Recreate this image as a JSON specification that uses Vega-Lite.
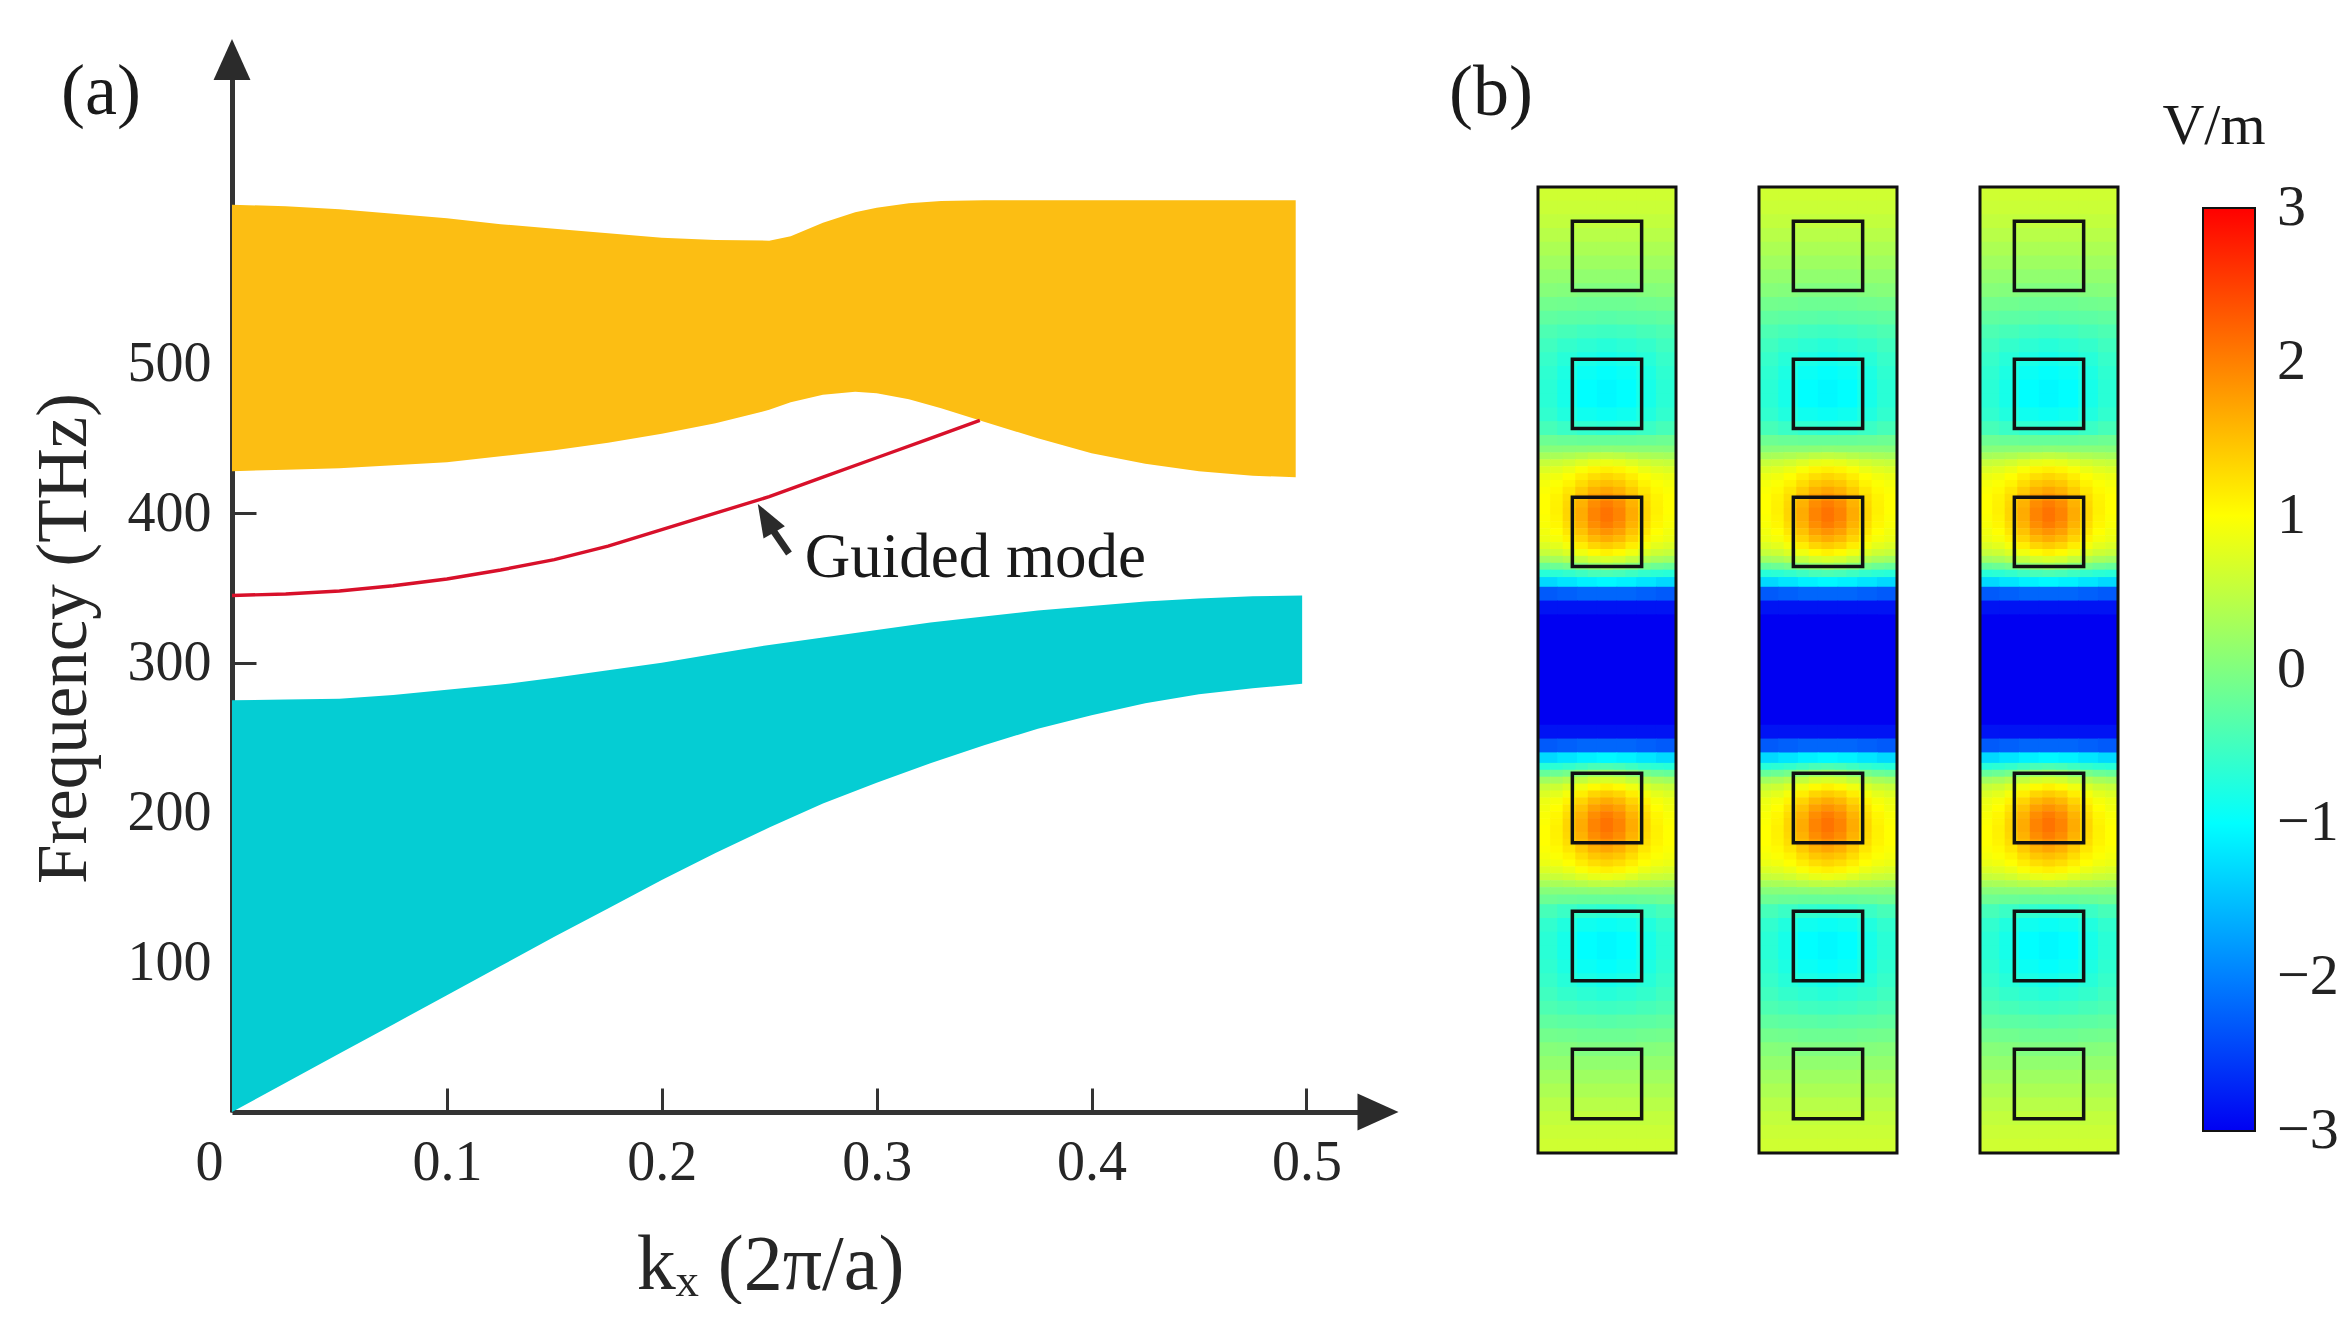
{
  "$schema": "https://vega.github.io/schema/vega-lite/v6.json",
  "padding": {"left": 28, "top": 39, "right": 0, "bottom": 0},
  "background": "white",
  "config": {"view": {"stroke": null}, "font": "Liberation Serif", "axis": {"grid": false}},
  "datasets": {
    "upper": [
      {"k":0,"f":428,"f2":606},{"k":0.025,"f":429,"f2":605},{"k":0.05,"f":430,"f2":603},{"k":0.075,"f":432,"f2":600},
      {"k":0.1,"f":434,"f2":597},{"k":0.125,"f":438,"f2":593},{"k":0.15,"f":442,"f2":590},{"k":0.175,"f":447,"f2":587},
      {"k":0.2,"f":453,"f2":584},{"k":0.225,"f":460,"f2":582.5},{"k":0.25,"f":469,"f2":582},{"k":0.26,"f":474,"f2":585},
      {"k":0.275,"f":479,"f2":594},{"k":0.29,"f":481,"f2":601},{"k":0.3,"f":480,"f2":604},{"k":0.315,"f":476,"f2":607},
      {"k":0.33,"f":470,"f2":608.5},{"k":0.35,"f":461,"f2":609},{"k":0.375,"f":450,"f2":609},{"k":0.4,"f":440,"f2":609},
      {"k":0.425,"f":433,"f2":609},{"k":0.45,"f":428,"f2":609},{"k":0.475,"f":425,"f2":609},{"k":0.495,"f":424,"f2":609}
    ],
    "lower": [
      {"k":0,"f":0,"f2":275},{"k":0.025,"f":19.5,"f2":275.5},{"k":0.05,"f":39,"f2":276},{"k":0.075,"f":58.5,"f2":278.5},
      {"k":0.1,"f":78,"f2":282},{"k":0.125,"f":97.5,"f2":285.5},{"k":0.15,"f":117,"f2":290},{"k":0.175,"f":136,"f2":295},
      {"k":0.2,"f":155,"f2":300},{"k":0.225,"f":173,"f2":306},{"k":0.25,"f":190,"f2":312},{"k":0.275,"f":206,"f2":317},
      {"k":0.3,"f":220,"f2":322},{"k":0.325,"f":233,"f2":327},{"k":0.35,"f":245,"f2":331},{"k":0.375,"f":256,"f2":335},
      {"k":0.4,"f":265,"f2":338},{"k":0.425,"f":273,"f2":341},{"k":0.45,"f":279,"f2":343},{"k":0.475,"f":283,"f2":344.5},
      {"k":0.498,"f":286,"f2":345}
    ],
    "guided": [
      {"k":0,"f":345},{"k":0.025,"f":346},{"k":0.05,"f":348},{"k":0.075,"f":351.5},{"k":0.1,"f":356},
      {"k":0.125,"f":362},{"k":0.15,"f":369},{"k":0.175,"f":378},{"k":0.2,"f":389},{"k":0.225,"f":400},
      {"k":0.25,"f":411},{"k":0.275,"f":424},{"k":0.3,"f":437},{"k":0.325,"f":450},{"k":0.348,"f":462}
    ],
    "pointer": [{"k":0.2592,"f":373},{"k":0.2515,"f":389}],
    "heads": [
      {"k":0,"f":703,"dir":"up"},
      {"k":0.5333,"f":0,"dir":"right"},
      {"k":0.2485,"f":396.7,"dir":"pointer"}
    ],
    "labelsA": [{"k":0.2665,"f":370,"label":"Guided mode"}],
    "panelA": [{"k":-0.061,"f":681,"label":"(a)"}],
    "panelB": [{"x":-0.34,"u":-0.68,"label":"(b)"}],
    "unit": [{"x":1.696,"u":-0.435,"label":"V/m"}],
    "cell": [{"x0":0,"x1":1,"u0":0,"u1":7}],
    "rods": [{"x":0.5,"u":0.5},{"x":0.5,"u":1.5},{"x":0.5,"u":2.5},{"x":0.5,"u":4.5},{"x":0.5,"u":5.5},{"x":0.5,"u":6.5}],
    "field": [
{"x":0.071,"u":0.05,"v":0.62},{"x":0.214,"u":0.05,"v":0.62},{"x":0.357,"u":0.05,"v":0.62},{"x":0.5,"u":0.05,"v":0.62},{"x":0.643,"u":0.05,"v":0.62},{"x":0.786,"u":0.05,"v":0.62},{"x":0.929,"u":0.05,"v":0.62},
{"x":0.071,"u":0.15,"v":0.58},{"x":0.214,"u":0.15,"v":0.58},{"x":0.357,"u":0.15,"v":0.58},{"x":0.5,"u":0.15,"v":0.58},{"x":0.643,"u":0.15,"v":0.58},{"x":0.786,"u":0.15,"v":0.58},{"x":0.929,"u":0.15,"v":0.58},
{"x":0.071,"u":0.25,"v":0.52},{"x":0.214,"u":0.25,"v":0.52},{"x":0.357,"u":0.25,"v":0.52},{"x":0.5,"u":0.25,"v":0.52},{"x":0.643,"u":0.25,"v":0.52},{"x":0.786,"u":0.25,"v":0.52},{"x":0.929,"u":0.25,"v":0.52},
{"x":0.071,"u":0.35,"v":0.44},{"x":0.214,"u":0.35,"v":0.44},{"x":0.357,"u":0.35,"v":0.44},{"x":0.5,"u":0.35,"v":0.44},{"x":0.643,"u":0.35,"v":0.44},{"x":0.786,"u":0.35,"v":0.44},{"x":0.929,"u":0.35,"v":0.44},
{"x":0.071,"u":0.45,"v":0.35},{"x":0.214,"u":0.45,"v":0.35},{"x":0.357,"u":0.45,"v":0.34},{"x":0.5,"u":0.45,"v":0.34},{"x":0.643,"u":0.45,"v":0.34},{"x":0.786,"u":0.45,"v":0.35},{"x":0.929,"u":0.45,"v":0.35},
{"x":0.071,"u":0.55,"v":0.25},{"x":0.214,"u":0.55,"v":0.25},{"x":0.357,"u":0.55,"v":0.24},{"x":0.5,"u":0.55,"v":0.24},{"x":0.643,"u":0.55,"v":0.24},{"x":0.786,"u":0.55,"v":0.25},{"x":0.929,"u":0.55,"v":0.25},
{"x":0.071,"u":0.65,"v":0.15},{"x":0.214,"u":0.65,"v":0.15},{"x":0.357,"u":0.65,"v":0.13},{"x":0.5,"u":0.65,"v":0.13},{"x":0.643,"u":0.65,"v":0.13},{"x":0.786,"u":0.65,"v":0.15},{"x":0.929,"u":0.65,"v":0.15},
{"x":0.071,"u":0.75,"v":0.05},{"x":0.214,"u":0.75,"v":0.03},{"x":0.357,"u":0.75,"v":0},{"x":0.5,"u":0.75,"v":0},{"x":0.643,"u":0.75,"v":0},{"x":0.786,"u":0.75,"v":0.03},{"x":0.929,"u":0.75,"v":0.05},
{"x":0.071,"u":0.85,"v":-0.1},{"x":0.214,"u":0.85,"v":-0.12},{"x":0.357,"u":0.85,"v":-0.15},{"x":0.5,"u":0.85,"v":-0.15},{"x":0.643,"u":0.85,"v":-0.15},{"x":0.786,"u":0.85,"v":-0.12},{"x":0.929,"u":0.85,"v":-0.1},
{"x":0.071,"u":0.95,"v":-0.25},{"x":0.214,"u":0.95,"v":-0.28},{"x":0.357,"u":0.95,"v":-0.3},{"x":0.5,"u":0.95,"v":-0.32},{"x":0.643,"u":0.95,"v":-0.3},{"x":0.786,"u":0.95,"v":-0.28},{"x":0.929,"u":0.95,"v":-0.25},
{"x":0.071,"u":1.05,"v":-0.4},{"x":0.214,"u":1.05,"v":-0.45},{"x":0.357,"u":1.05,"v":-0.5},{"x":0.5,"u":1.05,"v":-0.52},{"x":0.643,"u":1.05,"v":-0.5},{"x":0.786,"u":1.05,"v":-0.45},{"x":0.929,"u":1.05,"v":-0.4},
{"x":0.071,"u":1.15,"v":-0.5},{"x":0.214,"u":1.15,"v":-0.6},{"x":0.357,"u":1.15,"v":-0.66},{"x":0.5,"u":1.15,"v":-0.7},{"x":0.643,"u":1.15,"v":-0.66},{"x":0.786,"u":1.15,"v":-0.6},{"x":0.929,"u":1.15,"v":-0.5},
{"x":0.071,"u":1.25,"v":-0.58},{"x":0.214,"u":1.25,"v":-0.7},{"x":0.357,"u":1.25,"v":-0.8},{"x":0.5,"u":1.25,"v":-0.85},{"x":0.643,"u":1.25,"v":-0.8},{"x":0.786,"u":1.25,"v":-0.7},{"x":0.929,"u":1.25,"v":-0.58},
{"x":0.071,"u":1.35,"v":-0.64},{"x":0.214,"u":1.35,"v":-0.78},{"x":0.357,"u":1.35,"v":-0.92},{"x":0.5,"u":1.35,"v":-0.98},{"x":0.643,"u":1.35,"v":-0.92},{"x":0.786,"u":1.35,"v":-0.78},{"x":0.929,"u":1.35,"v":-0.64},
{"x":0.071,"u":1.45,"v":-0.68},{"x":0.214,"u":1.45,"v":-0.83},{"x":0.357,"u":1.45,"v":-1},{"x":0.5,"u":1.45,"v":-1.05},{"x":0.643,"u":1.45,"v":-1},{"x":0.786,"u":1.45,"v":-0.83},{"x":0.929,"u":1.45,"v":-0.68},
{"x":0.071,"u":1.55,"v":-0.68},{"x":0.214,"u":1.55,"v":-0.83},{"x":0.357,"u":1.55,"v":-1},{"x":0.5,"u":1.55,"v":-1.05},{"x":0.643,"u":1.55,"v":-1},{"x":0.786,"u":1.55,"v":-0.83},{"x":0.929,"u":1.55,"v":-0.68},
{"x":0.071,"u":1.65,"v":-0.62},{"x":0.214,"u":1.65,"v":-0.75},{"x":0.357,"u":1.65,"v":-0.88},{"x":0.5,"u":1.65,"v":-0.92},{"x":0.643,"u":1.65,"v":-0.88},{"x":0.786,"u":1.65,"v":-0.75},{"x":0.929,"u":1.65,"v":-0.62},
{"x":0.071,"u":1.75,"v":-0.45},{"x":0.214,"u":1.75,"v":-0.55},{"x":0.357,"u":1.75,"v":-0.62},{"x":0.5,"u":1.75,"v":-0.65},{"x":0.643,"u":1.75,"v":-0.62},{"x":0.786,"u":1.75,"v":-0.55},{"x":0.929,"u":1.75,"v":-0.45},
{"x":0.071,"u":1.85,"v":-0.15},{"x":0.214,"u":1.85,"v":-0.18},{"x":0.357,"u":1.85,"v":-0.2},{"x":0.5,"u":1.85,"v":-0.2},{"x":0.643,"u":1.85,"v":-0.2},{"x":0.786,"u":1.85,"v":-0.18},{"x":0.929,"u":1.85,"v":-0.15},
{"x":0.071,"u":2.85,"v":-1.3},{"x":0.214,"u":2.85,"v":-1.2},{"x":0.357,"u":2.85,"v":-1.1},{"x":0.5,"u":2.85,"v":-1.05},{"x":0.643,"u":2.85,"v":-1.1},{"x":0.786,"u":2.85,"v":-1.2},{"x":0.929,"u":2.85,"v":-1.3},
{"x":0.071,"u":2.95,"v":-2.3},{"x":0.214,"u":2.95,"v":-2.25},{"x":0.357,"u":2.95,"v":-2.2},{"x":0.5,"u":2.95,"v":-2.2},{"x":0.643,"u":2.95,"v":-2.2},{"x":0.786,"u":2.95,"v":-2.25},{"x":0.929,"u":2.95,"v":-2.3},
{"x":0.071,"u":3.05,"v":-2.85},{"x":0.214,"u":3.05,"v":-2.85},{"x":0.357,"u":3.05,"v":-2.85},{"x":0.5,"u":3.05,"v":-2.85},{"x":0.643,"u":3.05,"v":-2.85},{"x":0.786,"u":3.05,"v":-2.85},{"x":0.929,"u":3.05,"v":-2.85},
{"x":0.071,"u":3.15,"v":-3},{"x":0.214,"u":3.15,"v":-3},{"x":0.357,"u":3.15,"v":-3},{"x":0.5,"u":3.15,"v":-3},{"x":0.643,"u":3.15,"v":-3},{"x":0.786,"u":3.15,"v":-3},{"x":0.929,"u":3.15,"v":-3},
{"x":0.071,"u":3.25,"v":-3},{"x":0.214,"u":3.25,"v":-3},{"x":0.357,"u":3.25,"v":-3},{"x":0.5,"u":3.25,"v":-3},{"x":0.643,"u":3.25,"v":-3},{"x":0.786,"u":3.25,"v":-3},{"x":0.929,"u":3.25,"v":-3},
{"x":0.071,"u":3.35,"v":-3},{"x":0.214,"u":3.35,"v":-3},{"x":0.357,"u":3.35,"v":-3},{"x":0.5,"u":3.35,"v":-3},{"x":0.643,"u":3.35,"v":-3},{"x":0.786,"u":3.35,"v":-3},{"x":0.929,"u":3.35,"v":-3},
{"x":0.071,"u":3.45,"v":-3},{"x":0.214,"u":3.45,"v":-3},{"x":0.357,"u":3.45,"v":-3},{"x":0.5,"u":3.45,"v":-3},{"x":0.643,"u":3.45,"v":-3},{"x":0.786,"u":3.45,"v":-3},{"x":0.929,"u":3.45,"v":-3},
{"x":0.071,"u":3.55,"v":-3},{"x":0.214,"u":3.55,"v":-3},{"x":0.357,"u":3.55,"v":-3},{"x":0.5,"u":3.55,"v":-3},{"x":0.643,"u":3.55,"v":-3},{"x":0.786,"u":3.55,"v":-3},{"x":0.929,"u":3.55,"v":-3},
{"x":0.071,"u":3.65,"v":-3},{"x":0.214,"u":3.65,"v":-3},{"x":0.357,"u":3.65,"v":-3},{"x":0.5,"u":3.65,"v":-3},{"x":0.643,"u":3.65,"v":-3},{"x":0.786,"u":3.65,"v":-3},{"x":0.929,"u":3.65,"v":-3},
{"x":0.071,"u":3.75,"v":-3},{"x":0.214,"u":3.75,"v":-3},{"x":0.357,"u":3.75,"v":-3},{"x":0.5,"u":3.75,"v":-3},{"x":0.643,"u":3.75,"v":-3},{"x":0.786,"u":3.75,"v":-3},{"x":0.929,"u":3.75,"v":-3},
{"x":0.071,"u":3.85,"v":-3},{"x":0.214,"u":3.85,"v":-3},{"x":0.357,"u":3.85,"v":-3},{"x":0.5,"u":3.85,"v":-3},{"x":0.643,"u":3.85,"v":-3},{"x":0.786,"u":3.85,"v":-3},{"x":0.929,"u":3.85,"v":-3},
{"x":0.071,"u":3.95,"v":-2.85},{"x":0.214,"u":3.95,"v":-2.85},{"x":0.357,"u":3.95,"v":-2.85},{"x":0.5,"u":3.95,"v":-2.85},{"x":0.643,"u":3.95,"v":-2.85},{"x":0.786,"u":3.95,"v":-2.85},{"x":0.929,"u":3.95,"v":-2.85},
{"x":0.071,"u":4.05,"v":-2.3},{"x":0.214,"u":4.05,"v":-2.25},{"x":0.357,"u":4.05,"v":-2.2},{"x":0.5,"u":4.05,"v":-2.2},{"x":0.643,"u":4.05,"v":-2.2},{"x":0.786,"u":4.05,"v":-2.25},{"x":0.929,"u":4.05,"v":-2.3},
{"x":0.071,"u":4.15,"v":-1.3},{"x":0.214,"u":4.15,"v":-1.2},{"x":0.357,"u":4.15,"v":-1.1},{"x":0.5,"u":4.15,"v":-1.05},{"x":0.643,"u":4.15,"v":-1.1},{"x":0.786,"u":4.15,"v":-1.2},{"x":0.929,"u":4.15,"v":-1.3},
{"x":0.071,"u":5.15,"v":-0.15},{"x":0.214,"u":5.15,"v":-0.18},{"x":0.357,"u":5.15,"v":-0.2},{"x":0.5,"u":5.15,"v":-0.2},{"x":0.643,"u":5.15,"v":-0.2},{"x":0.786,"u":5.15,"v":-0.18},{"x":0.929,"u":5.15,"v":-0.15},
{"x":0.071,"u":5.25,"v":-0.45},{"x":0.214,"u":5.25,"v":-0.55},{"x":0.357,"u":5.25,"v":-0.62},{"x":0.5,"u":5.25,"v":-0.65},{"x":0.643,"u":5.25,"v":-0.62},{"x":0.786,"u":5.25,"v":-0.55},{"x":0.929,"u":5.25,"v":-0.45},
{"x":0.071,"u":5.35,"v":-0.62},{"x":0.214,"u":5.35,"v":-0.75},{"x":0.357,"u":5.35,"v":-0.88},{"x":0.5,"u":5.35,"v":-0.92},{"x":0.643,"u":5.35,"v":-0.88},{"x":0.786,"u":5.35,"v":-0.75},{"x":0.929,"u":5.35,"v":-0.62},
{"x":0.071,"u":5.45,"v":-0.68},{"x":0.214,"u":5.45,"v":-0.83},{"x":0.357,"u":5.45,"v":-1},{"x":0.5,"u":5.45,"v":-1.05},{"x":0.643,"u":5.45,"v":-1},{"x":0.786,"u":5.45,"v":-0.83},{"x":0.929,"u":5.45,"v":-0.68},
{"x":0.071,"u":5.55,"v":-0.68},{"x":0.214,"u":5.55,"v":-0.83},{"x":0.357,"u":5.55,"v":-1},{"x":0.5,"u":5.55,"v":-1.05},{"x":0.643,"u":5.55,"v":-1},{"x":0.786,"u":5.55,"v":-0.83},{"x":0.929,"u":5.55,"v":-0.68},
{"x":0.071,"u":5.65,"v":-0.64},{"x":0.214,"u":5.65,"v":-0.78},{"x":0.357,"u":5.65,"v":-0.92},{"x":0.5,"u":5.65,"v":-0.98},{"x":0.643,"u":5.65,"v":-0.92},{"x":0.786,"u":5.65,"v":-0.78},{"x":0.929,"u":5.65,"v":-0.64},
{"x":0.071,"u":5.75,"v":-0.58},{"x":0.214,"u":5.75,"v":-0.7},{"x":0.357,"u":5.75,"v":-0.8},{"x":0.5,"u":5.75,"v":-0.85},{"x":0.643,"u":5.75,"v":-0.8},{"x":0.786,"u":5.75,"v":-0.7},{"x":0.929,"u":5.75,"v":-0.58},
{"x":0.071,"u":5.85,"v":-0.5},{"x":0.214,"u":5.85,"v":-0.6},{"x":0.357,"u":5.85,"v":-0.66},{"x":0.5,"u":5.85,"v":-0.7},{"x":0.643,"u":5.85,"v":-0.66},{"x":0.786,"u":5.85,"v":-0.6},{"x":0.929,"u":5.85,"v":-0.5},
{"x":0.071,"u":5.95,"v":-0.4},{"x":0.214,"u":5.95,"v":-0.45},{"x":0.357,"u":5.95,"v":-0.5},{"x":0.5,"u":5.95,"v":-0.52},{"x":0.643,"u":5.95,"v":-0.5},{"x":0.786,"u":5.95,"v":-0.45},{"x":0.929,"u":5.95,"v":-0.4},
{"x":0.071,"u":6.05,"v":-0.25},{"x":0.214,"u":6.05,"v":-0.28},{"x":0.357,"u":6.05,"v":-0.3},{"x":0.5,"u":6.05,"v":-0.32},{"x":0.643,"u":6.05,"v":-0.3},{"x":0.786,"u":6.05,"v":-0.28},{"x":0.929,"u":6.05,"v":-0.25},
{"x":0.071,"u":6.15,"v":-0.1},{"x":0.214,"u":6.15,"v":-0.12},{"x":0.357,"u":6.15,"v":-0.15},{"x":0.5,"u":6.15,"v":-0.15},{"x":0.643,"u":6.15,"v":-0.15},{"x":0.786,"u":6.15,"v":-0.12},{"x":0.929,"u":6.15,"v":-0.1},
{"x":0.071,"u":6.25,"v":0.05},{"x":0.214,"u":6.25,"v":0.03},{"x":0.357,"u":6.25,"v":0},{"x":0.5,"u":6.25,"v":0},{"x":0.643,"u":6.25,"v":0},{"x":0.786,"u":6.25,"v":0.03},{"x":0.929,"u":6.25,"v":0.05},
{"x":0.071,"u":6.35,"v":0.15},{"x":0.214,"u":6.35,"v":0.15},{"x":0.357,"u":6.35,"v":0.13},{"x":0.5,"u":6.35,"v":0.13},{"x":0.643,"u":6.35,"v":0.13},{"x":0.786,"u":6.35,"v":0.15},{"x":0.929,"u":6.35,"v":0.15},
{"x":0.071,"u":6.45,"v":0.25},{"x":0.214,"u":6.45,"v":0.25},{"x":0.357,"u":6.45,"v":0.24},{"x":0.5,"u":6.45,"v":0.24},{"x":0.643,"u":6.45,"v":0.24},{"x":0.786,"u":6.45,"v":0.25},{"x":0.929,"u":6.45,"v":0.25},
{"x":0.071,"u":6.55,"v":0.35},{"x":0.214,"u":6.55,"v":0.35},{"x":0.357,"u":6.55,"v":0.34},{"x":0.5,"u":6.55,"v":0.34},{"x":0.643,"u":6.55,"v":0.34},{"x":0.786,"u":6.55,"v":0.35},{"x":0.929,"u":6.55,"v":0.35},
{"x":0.071,"u":6.65,"v":0.44},{"x":0.214,"u":6.65,"v":0.44},{"x":0.357,"u":6.65,"v":0.44},{"x":0.5,"u":6.65,"v":0.44},{"x":0.643,"u":6.65,"v":0.44},{"x":0.786,"u":6.65,"v":0.44},{"x":0.929,"u":6.65,"v":0.44},
{"x":0.071,"u":6.75,"v":0.52},{"x":0.214,"u":6.75,"v":0.52},{"x":0.357,"u":6.75,"v":0.52},{"x":0.5,"u":6.75,"v":0.52},{"x":0.643,"u":6.75,"v":0.52},{"x":0.786,"u":6.75,"v":0.52},{"x":0.929,"u":6.75,"v":0.52},
{"x":0.071,"u":6.85,"v":0.58},{"x":0.214,"u":6.85,"v":0.58},{"x":0.357,"u":6.85,"v":0.58},{"x":0.5,"u":6.85,"v":0.58},{"x":0.643,"u":6.85,"v":0.58},{"x":0.786,"u":6.85,"v":0.58},{"x":0.929,"u":6.85,"v":0.58},
{"x":0.071,"u":6.95,"v":0.62},{"x":0.214,"u":6.95,"v":0.62},{"x":0.357,"u":6.95,"v":0.62},{"x":0.5,"u":6.95,"v":0.62},{"x":0.643,"u":6.95,"v":0.62},{"x":0.786,"u":6.95,"v":0.62},{"x":0.929,"u":6.95,"v":0.62}
    ],
    "fine": [
{"x":0.045,"u":1.9,"v":0.05},{"x":0.136,"u":1.9,"v":0.06},{"x":0.227,"u":1.9,"v":0.07},{"x":0.318,"u":1.9,"v":0.08},{"x":0.409,"u":1.9,"v":0.09},{"x":0.5,"u":1.9,"v":0.1},{"x":0.591,"u":1.9,"v":0.09},{"x":0.682,"u":1.9,"v":0.08},{"x":0.773,"u":1.9,"v":0.07},{"x":0.864,"u":1.9,"v":0.06},{"x":0.955,"u":1.9,"v":0.05},
{"x":0.045,"u":1.95,"v":0.3},{"x":0.136,"u":1.95,"v":0.32},{"x":0.227,"u":1.95,"v":0.36},{"x":0.318,"u":1.95,"v":0.42},{"x":0.409,"u":1.95,"v":0.48},{"x":0.5,"u":1.95,"v":0.5},{"x":0.591,"u":1.95,"v":0.48},{"x":0.682,"u":1.95,"v":0.42},{"x":0.773,"u":1.95,"v":0.36},{"x":0.864,"u":1.95,"v":0.32},{"x":0.955,"u":1.95,"v":0.3},
{"x":0.045,"u":2,"v":0.55},{"x":0.136,"u":2,"v":0.58},{"x":0.227,"u":2,"v":0.64},{"x":0.318,"u":2,"v":0.73},{"x":0.409,"u":2,"v":0.81},{"x":0.5,"u":2,"v":0.85},{"x":0.591,"u":2,"v":0.81},{"x":0.682,"u":2,"v":0.73},{"x":0.773,"u":2,"v":0.64},{"x":0.864,"u":2,"v":0.58},{"x":0.955,"u":2,"v":0.55},
{"x":0.045,"u":2.05,"v":0.72},{"x":0.136,"u":2.05,"v":0.76},{"x":0.227,"u":2.05,"v":0.84},{"x":0.318,"u":2.05,"v":0.96},{"x":0.409,"u":2.05,"v":1.07},{"x":0.5,"u":2.05,"v":1.12},{"x":0.591,"u":2.05,"v":1.07},{"x":0.682,"u":2.05,"v":0.96},{"x":0.773,"u":2.05,"v":0.84},{"x":0.864,"u":2.05,"v":0.76},{"x":0.955,"u":2.05,"v":0.72},
{"x":0.045,"u":2.1,"v":0.85},{"x":0.136,"u":2.1,"v":0.9},{"x":0.227,"u":2.1,"v":0.99},{"x":0.318,"u":2.1,"v":1.13},{"x":0.409,"u":2.1,"v":1.26},{"x":0.5,"u":2.1,"v":1.32},{"x":0.591,"u":2.1,"v":1.26},{"x":0.682,"u":2.1,"v":1.13},{"x":0.773,"u":2.1,"v":0.99},{"x":0.864,"u":2.1,"v":0.9},{"x":0.955,"u":2.1,"v":0.85},
{"x":0.045,"u":2.15,"v":0.92},{"x":0.136,"u":2.15,"v":0.98},{"x":0.227,"u":2.15,"v":1.09},{"x":0.318,"u":2.15,"v":1.27},{"x":0.409,"u":2.15,"v":1.43},{"x":0.5,"u":2.15,"v":1.5},{"x":0.591,"u":2.15,"v":1.43},{"x":0.682,"u":2.15,"v":1.27},{"x":0.773,"u":2.15,"v":1.09},{"x":0.864,"u":2.15,"v":0.98},{"x":0.955,"u":2.15,"v":0.92},
{"x":0.045,"u":2.2,"v":0.97},{"x":0.136,"u":2.2,"v":1.04},{"x":0.227,"u":2.2,"v":1.19},{"x":0.318,"u":2.2,"v":1.41},{"x":0.409,"u":2.2,"v":1.61},{"x":0.5,"u":2.2,"v":1.7},{"x":0.591,"u":2.2,"v":1.61},{"x":0.682,"u":2.2,"v":1.41},{"x":0.773,"u":2.2,"v":1.19},{"x":0.864,"u":2.2,"v":1.04},{"x":0.955,"u":2.2,"v":0.97},
{"x":0.045,"u":2.25,"v":1},{"x":0.136,"u":2.25,"v":1.09},{"x":0.227,"u":2.25,"v":1.26},{"x":0.318,"u":2.25,"v":1.53},{"x":0.409,"u":2.25,"v":1.77},{"x":0.5,"u":2.25,"v":1.88},{"x":0.591,"u":2.25,"v":1.77},{"x":0.682,"u":2.25,"v":1.53},{"x":0.773,"u":2.25,"v":1.26},{"x":0.864,"u":2.25,"v":1.09},{"x":0.955,"u":2.25,"v":1},
{"x":0.045,"u":2.3,"v":1},{"x":0.136,"u":2.3,"v":1.1},{"x":0.227,"u":2.3,"v":1.31},{"x":0.318,"u":2.3,"v":1.61},{"x":0.409,"u":2.3,"v":1.9},{"x":0.5,"u":2.3,"v":2.02},{"x":0.591,"u":2.3,"v":1.9},{"x":0.682,"u":2.3,"v":1.61},{"x":0.773,"u":2.3,"v":1.31},{"x":0.864,"u":2.3,"v":1.1},{"x":0.955,"u":2.3,"v":1},
{"x":0.045,"u":2.35,"v":1},{"x":0.136,"u":2.35,"v":1.11},{"x":0.227,"u":2.35,"v":1.33},{"x":0.318,"u":2.35,"v":1.66},{"x":0.409,"u":2.35,"v":1.97},{"x":0.5,"u":2.35,"v":2.1},{"x":0.591,"u":2.35,"v":1.97},{"x":0.682,"u":2.35,"v":1.66},{"x":0.773,"u":2.35,"v":1.33},{"x":0.864,"u":2.35,"v":1.11},{"x":0.955,"u":2.35,"v":1},
{"x":0.045,"u":2.4,"v":0.98},{"x":0.136,"u":2.4,"v":1.09},{"x":0.227,"u":2.4,"v":1.32},{"x":0.318,"u":2.4,"v":1.65},{"x":0.409,"u":2.4,"v":1.97},{"x":0.5,"u":2.4,"v":2.1},{"x":0.591,"u":2.4,"v":1.97},{"x":0.682,"u":2.4,"v":1.65},{"x":0.773,"u":2.4,"v":1.32},{"x":0.864,"u":2.4,"v":1.09},{"x":0.955,"u":2.4,"v":0.98},
{"x":0.045,"u":2.45,"v":0.95},{"x":0.136,"u":2.45,"v":1.06},{"x":0.227,"u":2.45,"v":1.27},{"x":0.318,"u":2.45,"v":1.59},{"x":0.409,"u":2.45,"v":1.89},{"x":0.5,"u":2.45,"v":2.02},{"x":0.591,"u":2.45,"v":1.89},{"x":0.682,"u":2.45,"v":1.59},{"x":0.773,"u":2.45,"v":1.27},{"x":0.864,"u":2.45,"v":1.06},{"x":0.955,"u":2.45,"v":0.95},
{"x":0.045,"u":2.5,"v":0.9},{"x":0.136,"u":2.5,"v":1},{"x":0.227,"u":2.5,"v":1.19},{"x":0.318,"u":2.5,"v":1.47},{"x":0.409,"u":2.5,"v":1.74},{"x":0.5,"u":2.5,"v":1.85},{"x":0.591,"u":2.5,"v":1.74},{"x":0.682,"u":2.5,"v":1.47},{"x":0.773,"u":2.5,"v":1.19},{"x":0.864,"u":2.5,"v":1},{"x":0.955,"u":2.5,"v":0.9},
{"x":0.045,"u":2.55,"v":0.85},{"x":0.136,"u":2.55,"v":0.93},{"x":0.227,"u":2.55,"v":1.09},{"x":0.318,"u":2.55,"v":1.33},{"x":0.409,"u":2.55,"v":1.55},{"x":0.5,"u":2.55,"v":1.65},{"x":0.591,"u":2.55,"v":1.55},{"x":0.682,"u":2.55,"v":1.33},{"x":0.773,"u":2.55,"v":1.09},{"x":0.864,"u":2.55,"v":0.93},{"x":0.955,"u":2.55,"v":0.85},
{"x":0.045,"u":2.6,"v":0.72},{"x":0.136,"u":2.6,"v":0.79},{"x":0.227,"u":2.6,"v":0.92},{"x":0.318,"u":2.6,"v":1.13},{"x":0.409,"u":2.6,"v":1.32},{"x":0.5,"u":2.6,"v":1.4},{"x":0.591,"u":2.6,"v":1.32},{"x":0.682,"u":2.6,"v":1.13},{"x":0.773,"u":2.6,"v":0.92},{"x":0.864,"u":2.6,"v":0.79},{"x":0.955,"u":2.6,"v":0.72},
{"x":0.045,"u":2.65,"v":0.55},{"x":0.136,"u":2.65,"v":0.6},{"x":0.227,"u":2.65,"v":0.72},{"x":0.318,"u":2.65,"v":0.88},{"x":0.409,"u":2.65,"v":1.03},{"x":0.5,"u":2.65,"v":1.1},{"x":0.591,"u":2.65,"v":1.03},{"x":0.682,"u":2.65,"v":0.88},{"x":0.773,"u":2.65,"v":0.72},{"x":0.864,"u":2.65,"v":0.6},{"x":0.955,"u":2.65,"v":0.55},
{"x":0.045,"u":2.7,"v":0.25},{"x":0.136,"u":2.7,"v":0.3},{"x":0.227,"u":2.7,"v":0.39},{"x":0.318,"u":2.7,"v":0.52},{"x":0.409,"u":2.7,"v":0.65},{"x":0.5,"u":2.7,"v":0.7},{"x":0.591,"u":2.7,"v":0.65},{"x":0.682,"u":2.7,"v":0.52},{"x":0.773,"u":2.7,"v":0.39},{"x":0.864,"u":2.7,"v":0.3},{"x":0.955,"u":2.7,"v":0.25},
{"x":0.045,"u":2.75,"v":-0.2},{"x":0.136,"u":2.75,"v":-0.16},{"x":0.227,"u":2.75,"v":-0.08},{"x":0.318,"u":2.75,"v":0.04},{"x":0.409,"u":2.75,"v":0.15},{"x":0.5,"u":2.75,"v":0.2},{"x":0.591,"u":2.75,"v":0.15},{"x":0.682,"u":2.75,"v":0.04},{"x":0.773,"u":2.75,"v":-0.08},{"x":0.864,"u":2.75,"v":-0.16},{"x":0.955,"u":2.75,"v":-0.2},
{"x":0.045,"u":2.8,"v":-0.7},{"x":0.136,"u":2.8,"v":-0.67},{"x":0.227,"u":2.8,"v":-0.61},{"x":0.318,"u":2.8,"v":-0.52},{"x":0.409,"u":2.8,"v":-0.44},{"x":0.5,"u":2.8,"v":-0.4},{"x":0.591,"u":2.8,"v":-0.44},{"x":0.682,"u":2.8,"v":-0.52},{"x":0.773,"u":2.8,"v":-0.61},{"x":0.864,"u":2.8,"v":-0.67},{"x":0.955,"u":2.8,"v":-0.7},
{"x":0.045,"u":4.2,"v":-0.7},{"x":0.136,"u":4.2,"v":-0.67},{"x":0.227,"u":4.2,"v":-0.61},{"x":0.318,"u":4.2,"v":-0.52},{"x":0.409,"u":4.2,"v":-0.44},{"x":0.5,"u":4.2,"v":-0.4},{"x":0.591,"u":4.2,"v":-0.44},{"x":0.682,"u":4.2,"v":-0.52},{"x":0.773,"u":4.2,"v":-0.61},{"x":0.864,"u":4.2,"v":-0.67},{"x":0.955,"u":4.2,"v":-0.7},
{"x":0.045,"u":4.25,"v":-0.2},{"x":0.136,"u":4.25,"v":-0.16},{"x":0.227,"u":4.25,"v":-0.08},{"x":0.318,"u":4.25,"v":0.04},{"x":0.409,"u":4.25,"v":0.15},{"x":0.5,"u":4.25,"v":0.2},{"x":0.591,"u":4.25,"v":0.15},{"x":0.682,"u":4.25,"v":0.04},{"x":0.773,"u":4.25,"v":-0.08},{"x":0.864,"u":4.25,"v":-0.16},{"x":0.955,"u":4.25,"v":-0.2},
{"x":0.045,"u":4.3,"v":0.25},{"x":0.136,"u":4.3,"v":0.3},{"x":0.227,"u":4.3,"v":0.39},{"x":0.318,"u":4.3,"v":0.52},{"x":0.409,"u":4.3,"v":0.65},{"x":0.5,"u":4.3,"v":0.7},{"x":0.591,"u":4.3,"v":0.65},{"x":0.682,"u":4.3,"v":0.52},{"x":0.773,"u":4.3,"v":0.39},{"x":0.864,"u":4.3,"v":0.3},{"x":0.955,"u":4.3,"v":0.25},
{"x":0.045,"u":4.35,"v":0.55},{"x":0.136,"u":4.35,"v":0.6},{"x":0.227,"u":4.35,"v":0.72},{"x":0.318,"u":4.35,"v":0.88},{"x":0.409,"u":4.35,"v":1.03},{"x":0.5,"u":4.35,"v":1.1},{"x":0.591,"u":4.35,"v":1.03},{"x":0.682,"u":4.35,"v":0.88},{"x":0.773,"u":4.35,"v":0.72},{"x":0.864,"u":4.35,"v":0.6},{"x":0.955,"u":4.35,"v":0.55},
{"x":0.045,"u":4.4,"v":0.72},{"x":0.136,"u":4.4,"v":0.79},{"x":0.227,"u":4.4,"v":0.92},{"x":0.318,"u":4.4,"v":1.13},{"x":0.409,"u":4.4,"v":1.32},{"x":0.5,"u":4.4,"v":1.4},{"x":0.591,"u":4.4,"v":1.32},{"x":0.682,"u":4.4,"v":1.13},{"x":0.773,"u":4.4,"v":0.92},{"x":0.864,"u":4.4,"v":0.79},{"x":0.955,"u":4.4,"v":0.72},
{"x":0.045,"u":4.45,"v":0.85},{"x":0.136,"u":4.45,"v":0.93},{"x":0.227,"u":4.45,"v":1.09},{"x":0.318,"u":4.45,"v":1.33},{"x":0.409,"u":4.45,"v":1.55},{"x":0.5,"u":4.45,"v":1.65},{"x":0.591,"u":4.45,"v":1.55},{"x":0.682,"u":4.45,"v":1.33},{"x":0.773,"u":4.45,"v":1.09},{"x":0.864,"u":4.45,"v":0.93},{"x":0.955,"u":4.45,"v":0.85},
{"x":0.045,"u":4.5,"v":0.9},{"x":0.136,"u":4.5,"v":1},{"x":0.227,"u":4.5,"v":1.19},{"x":0.318,"u":4.5,"v":1.47},{"x":0.409,"u":4.5,"v":1.74},{"x":0.5,"u":4.5,"v":1.85},{"x":0.591,"u":4.5,"v":1.74},{"x":0.682,"u":4.5,"v":1.47},{"x":0.773,"u":4.5,"v":1.19},{"x":0.864,"u":4.5,"v":1},{"x":0.955,"u":4.5,"v":0.9},
{"x":0.045,"u":4.55,"v":0.95},{"x":0.136,"u":4.55,"v":1.06},{"x":0.227,"u":4.55,"v":1.27},{"x":0.318,"u":4.55,"v":1.59},{"x":0.409,"u":4.55,"v":1.89},{"x":0.5,"u":4.55,"v":2.02},{"x":0.591,"u":4.55,"v":1.89},{"x":0.682,"u":4.55,"v":1.59},{"x":0.773,"u":4.55,"v":1.27},{"x":0.864,"u":4.55,"v":1.06},{"x":0.955,"u":4.55,"v":0.95},
{"x":0.045,"u":4.6,"v":0.98},{"x":0.136,"u":4.6,"v":1.09},{"x":0.227,"u":4.6,"v":1.32},{"x":0.318,"u":4.6,"v":1.65},{"x":0.409,"u":4.6,"v":1.97},{"x":0.5,"u":4.6,"v":2.1},{"x":0.591,"u":4.6,"v":1.97},{"x":0.682,"u":4.6,"v":1.65},{"x":0.773,"u":4.6,"v":1.32},{"x":0.864,"u":4.6,"v":1.09},{"x":0.955,"u":4.6,"v":0.98},
{"x":0.045,"u":4.65,"v":1},{"x":0.136,"u":4.65,"v":1.11},{"x":0.227,"u":4.65,"v":1.33},{"x":0.318,"u":4.65,"v":1.66},{"x":0.409,"u":4.65,"v":1.97},{"x":0.5,"u":4.65,"v":2.1},{"x":0.591,"u":4.65,"v":1.97},{"x":0.682,"u":4.65,"v":1.66},{"x":0.773,"u":4.65,"v":1.33},{"x":0.864,"u":4.65,"v":1.11},{"x":0.955,"u":4.65,"v":1},
{"x":0.045,"u":4.7,"v":1},{"x":0.136,"u":4.7,"v":1.1},{"x":0.227,"u":4.7,"v":1.31},{"x":0.318,"u":4.7,"v":1.61},{"x":0.409,"u":4.7,"v":1.9},{"x":0.5,"u":4.7,"v":2.02},{"x":0.591,"u":4.7,"v":1.9},{"x":0.682,"u":4.7,"v":1.61},{"x":0.773,"u":4.7,"v":1.31},{"x":0.864,"u":4.7,"v":1.1},{"x":0.955,"u":4.7,"v":1},
{"x":0.045,"u":4.75,"v":1},{"x":0.136,"u":4.75,"v":1.09},{"x":0.227,"u":4.75,"v":1.26},{"x":0.318,"u":4.75,"v":1.53},{"x":0.409,"u":4.75,"v":1.77},{"x":0.5,"u":4.75,"v":1.88},{"x":0.591,"u":4.75,"v":1.77},{"x":0.682,"u":4.75,"v":1.53},{"x":0.773,"u":4.75,"v":1.26},{"x":0.864,"u":4.75,"v":1.09},{"x":0.955,"u":4.75,"v":1},
{"x":0.045,"u":4.8,"v":0.97},{"x":0.136,"u":4.8,"v":1.04},{"x":0.227,"u":4.8,"v":1.19},{"x":0.318,"u":4.8,"v":1.41},{"x":0.409,"u":4.8,"v":1.61},{"x":0.5,"u":4.8,"v":1.7},{"x":0.591,"u":4.8,"v":1.61},{"x":0.682,"u":4.8,"v":1.41},{"x":0.773,"u":4.8,"v":1.19},{"x":0.864,"u":4.8,"v":1.04},{"x":0.955,"u":4.8,"v":0.97},
{"x":0.045,"u":4.85,"v":0.92},{"x":0.136,"u":4.85,"v":0.98},{"x":0.227,"u":4.85,"v":1.09},{"x":0.318,"u":4.85,"v":1.27},{"x":0.409,"u":4.85,"v":1.43},{"x":0.5,"u":4.85,"v":1.5},{"x":0.591,"u":4.85,"v":1.43},{"x":0.682,"u":4.85,"v":1.27},{"x":0.773,"u":4.85,"v":1.09},{"x":0.864,"u":4.85,"v":0.98},{"x":0.955,"u":4.85,"v":0.92},
{"x":0.045,"u":4.9,"v":0.85},{"x":0.136,"u":4.9,"v":0.9},{"x":0.227,"u":4.9,"v":0.99},{"x":0.318,"u":4.9,"v":1.13},{"x":0.409,"u":4.9,"v":1.26},{"x":0.5,"u":4.9,"v":1.32},{"x":0.591,"u":4.9,"v":1.26},{"x":0.682,"u":4.9,"v":1.13},{"x":0.773,"u":4.9,"v":0.99},{"x":0.864,"u":4.9,"v":0.9},{"x":0.955,"u":4.9,"v":0.85},
{"x":0.045,"u":4.95,"v":0.72},{"x":0.136,"u":4.95,"v":0.76},{"x":0.227,"u":4.95,"v":0.84},{"x":0.318,"u":4.95,"v":0.96},{"x":0.409,"u":4.95,"v":1.07},{"x":0.5,"u":4.95,"v":1.12},{"x":0.591,"u":4.95,"v":1.07},{"x":0.682,"u":4.95,"v":0.96},{"x":0.773,"u":4.95,"v":0.84},{"x":0.864,"u":4.95,"v":0.76},{"x":0.955,"u":4.95,"v":0.72},
{"x":0.045,"u":5,"v":0.55},{"x":0.136,"u":5,"v":0.58},{"x":0.227,"u":5,"v":0.64},{"x":0.318,"u":5,"v":0.73},{"x":0.409,"u":5,"v":0.81},{"x":0.5,"u":5,"v":0.85},{"x":0.591,"u":5,"v":0.81},{"x":0.682,"u":5,"v":0.73},{"x":0.773,"u":5,"v":0.64},{"x":0.864,"u":5,"v":0.58},{"x":0.955,"u":5,"v":0.55},
{"x":0.045,"u":5.05,"v":0.3},{"x":0.136,"u":5.05,"v":0.32},{"x":0.227,"u":5.05,"v":0.36},{"x":0.318,"u":5.05,"v":0.42},{"x":0.409,"u":5.05,"v":0.48},{"x":0.5,"u":5.05,"v":0.5},{"x":0.591,"u":5.05,"v":0.48},{"x":0.682,"u":5.05,"v":0.42},{"x":0.773,"u":5.05,"v":0.36},{"x":0.864,"u":5.05,"v":0.32},{"x":0.955,"u":5.05,"v":0.3},
{"x":0.045,"u":5.1,"v":0.05},{"x":0.136,"u":5.1,"v":0.06},{"x":0.227,"u":5.1,"v":0.07},{"x":0.318,"u":5.1,"v":0.08},{"x":0.409,"u":5.1,"v":0.09},{"x":0.5,"u":5.1,"v":0.1},{"x":0.591,"u":5.1,"v":0.09},{"x":0.682,"u":5.1,"v":0.08},{"x":0.773,"u":5.1,"v":0.07},{"x":0.864,"u":5.1,"v":0.06},{"x":0.955,"u":5.1,"v":0.05}
    ]
  },
  "bounds": "flush",
  "spacing": 160,
  "resolve": {"scale": {"color": "shared"}, "legend": {"color": "shared"}},
  "hconcat": [
    {
      "width": 1146,
      "height": 1048,
      "encoding": {
        "x": {"field": "k", "type": "quantitative",
          "scale": {"domain": [0, 0.5333], "nice": false, "zero": false},
          "axis": {"values": [0, 0.1, 0.2, 0.3, 0.4, 0.5], "format": "~g",
            "title": "kₓ (2π/a)", "titleFont": "Liberation Serif", "titleFontSize": 78, "titleFontWeight": "normal", "titleColor": "#262626",
            "titleX": 538, "titleY": 153, "titleBaseline": "middle", "titleAlign": "center",
            "labelFont": "Liberation Serif", "labelFontSize": 56, "labelColor": "#262626", "labelPadding": 47,
            "labelOverlap": false, "labelFlush": false,
            "labelOffset": {"condition": {"test": "datum.value == 0", "value": -23}, "value": 0},
            "tickSize": -24, "tickWidth": 3, "tickColor": "#333333", "domainWidth": 5, "domainColor": "#333333", "grid": false}},
        "y": {"field": "f", "type": "quantitative",
          "scale": {"domain": [0, 700], "nice": false, "zero": false},
          "axis": {"values": [100, 200, 300, 400, 500], "format": "d",
            "title": "Frequency (THz)", "titleFont": "Liberation Serif", "titleFontSize": 71, "titleFontWeight": "normal", "titleColor": "#262626",
            "titleX": -168, "titleY": 574, "titleBaseline": "middle", "titleAlign": "center", "titleAngle": -90,
            "labelFont": "Liberation Serif", "labelFontSize": 56, "labelColor": "#262626", "labelPadding": 45,
            "tickSize": -24, "tickWidth": 3, "tickColor": "#333333", "domainWidth": 5, "domainColor": "#333333", "grid": false}}
      },
      "layer": [
        {"data": {"name": "upper"}, "mark": {"type": "area", "color": "#FCBE13", "opacity": 1}, "encoding": {"y2": {"field": "f2"}}},
        {"data": {"name": "lower"}, "mark": {"type": "area", "color": "#05CDD3", "opacity": 1}, "encoding": {"y2": {"field": "f2"}}},
        {"data": {"name": "guided"}, "mark": {"type": "line", "color": "#D8102A", "strokeWidth": 3.4}, "encoding": {}},
        {"data": {"name": "pointer"}, "mark": {"type": "line", "color": "#2b2b2b", "strokeWidth": 7}, "encoding": {}},
        {"data": {"name": "heads"}, "mark": {"type": "point", "filled": true, "size": 1681, "color": "#2b2b2b", "opacity": 1, "strokeWidth": 0},
          "encoding": {"shape": {"field": "dir", "type": "nominal",
            "scale": {"domain": ["up", "right", "pointer"], "range": ["M0,-1L-0.9,1L0.9,1Z", "M1,0L-1,-0.9L-1,0.9Z", "M-0.4,-0.693L-0.12,0.993L0.92,0.393Z"]},
            "legend": null}}},
        {"data": {"name": "labelsA"}, "mark": {"type": "text", "align": "left", "baseline": "middle", "font": "Liberation Serif", "fontSize": 63, "color": "#1a1a1a"},
          "encoding": {"text": {"field": "label"}}},
        {"data": {"name": "panelA"}, "mark": {"type": "text", "align": "center", "baseline": "middle", "font": "Liberation Serif", "fontSize": 72, "color": "#1a1a1a"},
          "encoding": {"text": {"field": "label"}}}
      ]
    },
    {
      "bounds": "flush",
      "spacing": 83,
      "resolve": {"scale": {"color": "shared"}, "legend": {"color": "shared"}},
      "hconcat": [
        {
          "width": 138, "height": 1089,
          "encoding": {
            "x": {"field": "x", "type": "quantitative", "scale": {"domain": [0, 1], "nice": false, "zero": false}, "axis": null},
            "y": {"field": "u", "type": "quantitative", "scale": {"domain": [-0.891, 7], "reverse": true, "nice": false, "zero": false}, "axis": null}
          },
          "layer": [
            {"data": {"name": "field"}, "mark": {"type": "rect", "width": 20.5, "height": 14.6, "strokeWidth": 0},
              "encoding": {"color": {"field": "v", "type": "quantitative",
                "scale": {"domain": [-3, -2, -1, 0, 1, 2, 3], "range": ["#0000f2", "#0080ff", "#00ffff", "#80ff80", "#ffff00", "#ff8000", "#ff0000"], "interpolate": "rgb", "clamp": true},
                "legend": {"orient": "none", "legendX": 1971, "legendY": 144, "title": null, "direction": "vertical",
                  "gradientLength": 923, "gradientThickness": 52, "gradientStrokeColor": "#111111", "gradientStrokeWidth": 2,
                  "values": [-3, -2, -1, 0, 1, 2, 3], "format": "d", "labelFont": "Liberation Serif", "labelFontSize": 58,
                  "labelColor": "#222222", "labelOffset": 22, "labelOverlap": false, "labelBaseline": "middle",
                  "encode": {"labels": {"update": {"baseline": {"value": "middle"}}}}}}}},
            {"data": {"name": "fine"}, "mark": {"type": "rect", "width": 13.3, "height": 7.4, "strokeWidth": 0},
              "encoding": {"color": {"field": "v", "type": "quantitative",
                "scale": {"domain": [-3, -2, -1, 0, 1, 2, 3], "range": ["#0000f2", "#0080ff", "#00ffff", "#80ff80", "#ffff00", "#ff8000", "#ff0000"], "interpolate": "rgb", "clamp": true},
                "legend": {"orient": "none", "legendX": 1971, "legendY": 144, "title": null, "direction": "vertical",
                  "gradientLength": 923, "gradientThickness": 52, "gradientStrokeColor": "#111111", "gradientStrokeWidth": 2,
                  "values": [-3, -2, -1, 0, 1, 2, 3], "format": "d", "labelFont": "Liberation Serif", "labelFontSize": 58,
                  "labelColor": "#222222", "labelOffset": 22, "labelOverlap": false, "labelBaseline": "middle",
                  "encode": {"labels": {"update": {"baseline": {"value": "middle"}}}}}}}},
            {"data": {"name": "cell"}, "mark": {"type": "rect", "filled": false, "stroke": "#111111", "strokeWidth": 3},
              "encoding": {"x": {"field": "x0", "type": "quantitative"}, "x2": {"field": "x1"}, "y": {"field": "u0", "type": "quantitative"}, "y2": {"field": "u1"}}},
            {"data": {"name": "rods"}, "mark": {"type": "point", "shape": "square", "size": 4800, "filled": false, "stroke": "#111111", "strokeWidth": 3.5, "opacity": 1}, "encoding": {}},
            {"data": {"name": "panelB"}, "mark": {"type": "text", "align": "center", "baseline": "middle", "font": "Liberation Serif", "fontSize": 72, "color": "#1a1a1a"},
              "encoding": {"text": {"field": "label"}}}
          ]
        },
        {
          "width": 138, "height": 1089,
          "encoding": {
            "x": {"field": "x", "type": "quantitative", "scale": {"domain": [0, 1], "nice": false, "zero": false}, "axis": null},
            "y": {"field": "u", "type": "quantitative", "scale": {"domain": [-0.891, 7], "reverse": true, "nice": false, "zero": false}, "axis": null}
          },
          "layer": [
            {"data": {"name": "field"}, "mark": {"type": "rect", "width": 20.5, "height": 14.6, "strokeWidth": 0},
              "encoding": {"color": {"field": "v", "type": "quantitative",
                "scale": {"domain": [-3, -2, -1, 0, 1, 2, 3], "range": ["#0000f2", "#0080ff", "#00ffff", "#80ff80", "#ffff00", "#ff8000", "#ff0000"], "interpolate": "rgb", "clamp": true},
                "legend": {"orient": "none", "legendX": 1971, "legendY": 144, "title": null, "direction": "vertical",
                  "gradientLength": 923, "gradientThickness": 52, "gradientStrokeColor": "#111111", "gradientStrokeWidth": 2,
                  "values": [-3, -2, -1, 0, 1, 2, 3], "format": "d", "labelFont": "Liberation Serif", "labelFontSize": 58,
                  "labelColor": "#222222", "labelOffset": 22, "labelOverlap": false, "labelBaseline": "middle",
                  "encode": {"labels": {"update": {"baseline": {"value": "middle"}}}}}}}},
            {"data": {"name": "fine"}, "mark": {"type": "rect", "width": 13.3, "height": 7.4, "strokeWidth": 0},
              "encoding": {"color": {"field": "v", "type": "quantitative",
                "scale": {"domain": [-3, -2, -1, 0, 1, 2, 3], "range": ["#0000f2", "#0080ff", "#00ffff", "#80ff80", "#ffff00", "#ff8000", "#ff0000"], "interpolate": "rgb", "clamp": true},
                "legend": {"orient": "none", "legendX": 1971, "legendY": 144, "title": null, "direction": "vertical",
                  "gradientLength": 923, "gradientThickness": 52, "gradientStrokeColor": "#111111", "gradientStrokeWidth": 2,
                  "values": [-3, -2, -1, 0, 1, 2, 3], "format": "d", "labelFont": "Liberation Serif", "labelFontSize": 58,
                  "labelColor": "#222222", "labelOffset": 22, "labelOverlap": false, "labelBaseline": "middle",
                  "encode": {"labels": {"update": {"baseline": {"value": "middle"}}}}}}}},
            {"data": {"name": "cell"}, "mark": {"type": "rect", "filled": false, "stroke": "#111111", "strokeWidth": 3},
              "encoding": {"x": {"field": "x0", "type": "quantitative"}, "x2": {"field": "x1"}, "y": {"field": "u0", "type": "quantitative"}, "y2": {"field": "u1"}}},
            {"data": {"name": "rods"}, "mark": {"type": "point", "shape": "square", "size": 4800, "filled": false, "stroke": "#111111", "strokeWidth": 3.5, "opacity": 1}, "encoding": {}}
          ]
        },
        {
          "width": 138, "height": 1089,
          "encoding": {
            "x": {"field": "x", "type": "quantitative", "scale": {"domain": [0, 1], "nice": false, "zero": false}, "axis": null},
            "y": {"field": "u", "type": "quantitative", "scale": {"domain": [-0.891, 7], "reverse": true, "nice": false, "zero": false}, "axis": null}
          },
          "layer": [
            {"data": {"name": "field"}, "mark": {"type": "rect", "width": 20.5, "height": 14.6, "strokeWidth": 0},
              "encoding": {"color": {"field": "v", "type": "quantitative",
                "scale": {"domain": [-3, -2, -1, 0, 1, 2, 3], "range": ["#0000f2", "#0080ff", "#00ffff", "#80ff80", "#ffff00", "#ff8000", "#ff0000"], "interpolate": "rgb", "clamp": true},
                "legend": {"orient": "none", "legendX": 1971, "legendY": 144, "title": null, "direction": "vertical",
                  "gradientLength": 923, "gradientThickness": 52, "gradientStrokeColor": "#111111", "gradientStrokeWidth": 2,
                  "values": [-3, -2, -1, 0, 1, 2, 3], "format": "d", "labelFont": "Liberation Serif", "labelFontSize": 58,
                  "labelColor": "#222222", "labelOffset": 22, "labelOverlap": false, "labelBaseline": "middle",
                  "encode": {"labels": {"update": {"baseline": {"value": "middle"}}}}}}}},
            {"data": {"name": "fine"}, "mark": {"type": "rect", "width": 13.3, "height": 7.4, "strokeWidth": 0},
              "encoding": {"color": {"field": "v", "type": "quantitative",
                "scale": {"domain": [-3, -2, -1, 0, 1, 2, 3], "range": ["#0000f2", "#0080ff", "#00ffff", "#80ff80", "#ffff00", "#ff8000", "#ff0000"], "interpolate": "rgb", "clamp": true},
                "legend": {"orient": "none", "legendX": 1971, "legendY": 144, "title": null, "direction": "vertical",
                  "gradientLength": 923, "gradientThickness": 52, "gradientStrokeColor": "#111111", "gradientStrokeWidth": 2,
                  "values": [-3, -2, -1, 0, 1, 2, 3], "format": "d", "labelFont": "Liberation Serif", "labelFontSize": 58,
                  "labelColor": "#222222", "labelOffset": 22, "labelOverlap": false, "labelBaseline": "middle",
                  "encode": {"labels": {"update": {"baseline": {"value": "middle"}}}}}}}},
            {"data": {"name": "cell"}, "mark": {"type": "rect", "filled": false, "stroke": "#111111", "strokeWidth": 3},
              "encoding": {"x": {"field": "x0", "type": "quantitative"}, "x2": {"field": "x1"}, "y": {"field": "u0", "type": "quantitative"}, "y2": {"field": "u1"}}},
            {"data": {"name": "rods"}, "mark": {"type": "point", "shape": "square", "size": 4800, "filled": false, "stroke": "#111111", "strokeWidth": 3.5, "opacity": 1}, "encoding": {}},
            {"data": {"name": "unit"}, "mark": {"type": "text", "align": "center", "baseline": "middle", "font": "Liberation Serif", "fontSize": 58, "color": "#1a1a1a"},
              "encoding": {"text": {"field": "label"}}}
          ]
        }
      ]
    }
  ]
}
